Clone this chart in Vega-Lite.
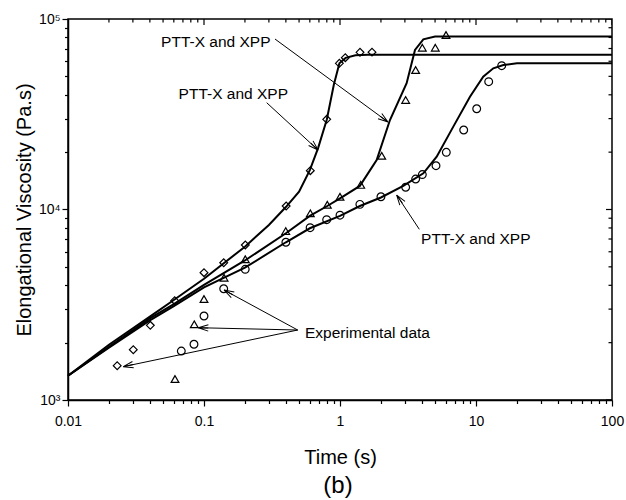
{
  "$schema": "https://vega.github.io/schema/vega-lite/v6.json",
  "width": 544,
  "height": 381,
  "autosize": {"type": "none"},
  "padding": {"left": 68, "top": 19, "right": 14, "bottom": 100},
  "background": "white",
  "config": {
    "font": "Liberation Sans",
    "view": {"stroke": "black", "strokeWidth": 1.5},
    "axis": {"grid": false, "domainColor": "black", "tickColor": "black", "labelColor": "black", "titleColor": "black", "labelOverlap": false, "labelFlush": false, "labelBound": false}
  },
  "title": {"text": "(b)", "orient": "bottom", "anchor": "middle", "fontSize": 24, "fontWeight": "normal", "color": "black", "offset": 7, "dx": -2},
  "datasets": {
    "lines": [
      {"curve": "D", "t": 0.01, "eta": 1340}, {"curve": "D", "t": 0.02, "eta": 1950}, {"curve": "D", "t": 0.03, "eta": 2380}, {"curve": "D", "t": 0.04, "eta": 2740}, {"curve": "D", "t": 0.06, "eta": 3350}, {"curve": "D", "t": 0.1, "eta": 4330}, {"curve": "D", "t": 0.2, "eta": 6380}, {"curve": "D", "t": 0.3, "eta": 8300}, {"curve": "D", "t": 0.4, "eta": 10300}, {"curve": "D", "t": 0.5, "eta": 12400}, {"curve": "D", "t": 0.6, "eta": 16100}, {"curve": "D", "t": 0.69, "eta": 21000}, {"curve": "D", "t": 0.8, "eta": 29700}, {"curve": "D", "t": 0.9, "eta": 45000}, {"curve": "D", "t": 0.99, "eta": 58500}, {"curve": "D", "t": 1.1, "eta": 62500}, {"curve": "D", "t": 1.3, "eta": 64500}, {"curve": "D", "t": 1.6, "eta": 65000}, {"curve": "D", "t": 100, "eta": 65000},
      {"curve": "T", "t": 0.01, "eta": 1340}, {"curve": "T", "t": 0.02, "eta": 1900}, {"curve": "T", "t": 0.04, "eta": 2680}, {"curve": "T", "t": 0.06, "eta": 3190}, {"curve": "T", "t": 0.1, "eta": 4020}, {"curve": "T", "t": 0.2, "eta": 5400}, {"curve": "T", "t": 0.4, "eta": 7500}, {"curve": "T", "t": 0.6, "eta": 9250}, {"curve": "T", "t": 0.8, "eta": 10400}, {"curve": "T", "t": 1.0, "eta": 11450}, {"curve": "T", "t": 1.4, "eta": 13300}, {"curve": "T", "t": 1.86, "eta": 18200}, {"curve": "T", "t": 2.33, "eta": 29500}, {"curve": "T", "t": 3.09, "eta": 46000}, {"curve": "T", "t": 3.56, "eta": 68800}, {"curve": "T", "t": 4.1, "eta": 78200}, {"curve": "T", "t": 5.0, "eta": 80900}, {"curve": "T", "t": 100, "eta": 81000},
      {"curve": "C", "t": 0.01, "eta": 1340}, {"curve": "C", "t": 0.02, "eta": 1880}, {"curve": "C", "t": 0.04, "eta": 2620}, {"curve": "C", "t": 0.06, "eta": 3110}, {"curve": "C", "t": 0.1, "eta": 3900}, {"curve": "C", "t": 0.2, "eta": 4950}, {"curve": "C", "t": 0.4, "eta": 6730}, {"curve": "C", "t": 0.6, "eta": 7970}, {"curve": "C", "t": 1.0, "eta": 9250}, {"curve": "C", "t": 1.4, "eta": 10430}, {"curve": "C", "t": 2.0, "eta": 11560}, {"curve": "C", "t": 2.92, "eta": 13290}, {"curve": "C", "t": 4.1, "eta": 15490}, {"curve": "C", "t": 5.14, "eta": 18930}, {"curve": "C", "t": 6.81, "eta": 27230}, {"curve": "C", "t": 9.03, "eta": 39070}, {"curve": "C", "t": 11.3, "eta": 49780}, {"curve": "C", "t": 13.4, "eta": 55100}, {"curve": "C", "t": 15.9, "eta": 57340}, {"curve": "C", "t": 20, "eta": 58500}, {"curve": "C", "t": 100, "eta": 58500}
    ],
    "points": [
      {"series": "diamond", "t": 0.023, "eta": 1514}, {"series": "diamond", "t": 0.0302, "eta": 1837}, {"series": "diamond", "t": 0.0403, "eta": 2466}, {"series": "diamond", "t": 0.0609, "eta": 3322}, {"series": "diamond", "t": 0.1, "eta": 4660}, {"series": "diamond", "t": 0.1396, "eta": 5256}, {"series": "diamond", "t": 0.2012, "eta": 6510}, {"series": "diamond", "t": 0.402, "eta": 10430}, {"series": "diamond", "t": 0.605, "eta": 15990}, {"series": "diamond", "t": 0.798, "eta": 29740}, {"series": "diamond", "t": 0.989, "eta": 58530}, {"series": "diamond", "t": 1.094, "eta": 62660}, {"series": "diamond", "t": 1.403, "eta": 66850}, {"series": "diamond", "t": 1.719, "eta": 67000},
      {"series": "triangle", "t": 0.0612, "eta": 1289}, {"series": "triangle", "t": 0.0848, "eta": 2496}, {"series": "triangle", "t": 0.1, "eta": 3390}, {"series": "triangle", "t": 0.1405, "eta": 4385}, {"series": "triangle", "t": 0.2012, "eta": 5480}, {"series": "triangle", "t": 0.399, "eta": 7700}, {"series": "triangle", "t": 0.605, "eta": 9548}, {"series": "triangle", "t": 0.807, "eta": 10590}, {"series": "triangle", "t": 1.0, "eta": 11670}, {"series": "triangle", "t": 1.42, "eta": 13460}, {"series": "triangle", "t": 2.027, "eta": 19140}, {"series": "triangle", "t": 3.04, "eta": 37580}, {"series": "triangle", "t": 3.6, "eta": 53980}, {"series": "triangle", "t": 4.03, "eta": 70680}, {"series": "triangle", "t": 5.02, "eta": 70680}, {"series": "triangle", "t": 6.02, "eta": 82410},
      {"series": "circle", "t": 0.0681, "eta": 1807}, {"series": "circle", "t": 0.0844, "eta": 1961}, {"series": "circle", "t": 0.1, "eta": 2761}, {"series": "circle", "t": 0.1396, "eta": 3837}, {"series": "circle", "t": 0.201, "eta": 4853}, {"series": "circle", "t": 0.4, "eta": 6733}, {"series": "circle", "t": 0.603, "eta": 8027}, {"series": "circle", "t": 0.798, "eta": 8843}, {"series": "circle", "t": 1.0, "eta": 9337}, {"series": "circle", "t": 1.4, "eta": 10640}, {"series": "circle", "t": 2.0, "eta": 11670}, {"series": "circle", "t": 3.04, "eta": 13080}, {"series": "circle", "t": 3.6, "eta": 14450}, {"series": "circle", "t": 4.03, "eta": 15250}, {"series": "circle", "t": 5.08, "eta": 16980}, {"series": "circle", "t": 6.05, "eta": 19960}, {"series": "circle", "t": 8.12, "eta": 26140}, {"series": "circle", "t": 10.12, "eta": 33800}, {"series": "circle", "t": 12.4, "eta": 46880}, {"series": "circle", "t": 15.45, "eta": 56880}
    ],
    "arrows": [
      {"id": "A", "t1": 0.3327, "e1": 78500, "t2": 2.254, "e2": 28800},
      {"id": "B", "t1": 0.289, "e1": 36360, "t2": 0.69, "e2": 20510},
      {"id": "C", "t1": 3.83, "e1": 7870, "t2": 2.61, "e2": 11910},
      {"id": "D", "t1": 0.4886, "e1": 2330, "t2": 0.1403, "e2": 3779},
      {"id": "E", "t1": 0.4886, "e1": 2330, "t2": 0.0908, "e2": 2396},
      {"id": "F", "t1": 0.4886, "e1": 2330, "t2": 0.0255, "e2": 1496}
    ],
    "labels": [
      {"text": "PTT-X and XPP", "t": 0.1221, "eta": 76000},
      {"text": "PTT-X and XPP", "t": 0.1642, "eta": 40400},
      {"text": "PTT-X and XPP", "t": 9.97, "eta": 7000},
      {"text": "Experimental data", "t": 1.593, "eta": 2239}
    ],
    "xticks": [
      {"v": 0.01, "kind": "major"}, {"v": 0.02, "kind": "minor"}, {"v": 0.03, "kind": "minor"}, {"v": 0.04, "kind": "minor"}, {"v": 0.05, "kind": "minor"}, {"v": 0.06, "kind": "minor"}, {"v": 0.07, "kind": "minor"}, {"v": 0.08, "kind": "minor"}, {"v": 0.09, "kind": "minor"},
      {"v": 0.1, "kind": "major"}, {"v": 0.2, "kind": "minor"}, {"v": 0.3, "kind": "minor"}, {"v": 0.4, "kind": "minor"}, {"v": 0.5, "kind": "minor"}, {"v": 0.6, "kind": "minor"}, {"v": 0.7, "kind": "minor"}, {"v": 0.8, "kind": "minor"}, {"v": 0.9, "kind": "minor"},
      {"v": 1, "kind": "major"}, {"v": 2, "kind": "minor"}, {"v": 3, "kind": "minor"}, {"v": 4, "kind": "minor"}, {"v": 5, "kind": "minor"}, {"v": 6, "kind": "minor"}, {"v": 7, "kind": "minor"}, {"v": 8, "kind": "minor"}, {"v": 9, "kind": "minor"},
      {"v": 10, "kind": "major"}, {"v": 20, "kind": "minor"}, {"v": 30, "kind": "minor"}, {"v": 40, "kind": "minor"}, {"v": 50, "kind": "minor"}, {"v": 60, "kind": "minor"}, {"v": 70, "kind": "minor"}, {"v": 80, "kind": "minor"}, {"v": 90, "kind": "minor"},
      {"v": 100, "kind": "major"}
    ],
    "yticks": [
      {"v": 1000, "kind": "major"}, {"v": 2000, "kind": "minor"}, {"v": 3000, "kind": "minor"}, {"v": 4000, "kind": "minor"}, {"v": 5000, "kind": "minor"}, {"v": 6000, "kind": "minor"}, {"v": 7000, "kind": "minor"}, {"v": 8000, "kind": "minor"}, {"v": 9000, "kind": "minor"},
      {"v": 10000, "kind": "major"}, {"v": 20000, "kind": "minor"}, {"v": 30000, "kind": "minor"}, {"v": 40000, "kind": "minor"}, {"v": 50000, "kind": "minor"}, {"v": 60000, "kind": "minor"}, {"v": 70000, "kind": "minor"}, {"v": 80000, "kind": "minor"}, {"v": 90000, "kind": "minor"},
      {"v": 100000, "kind": "major"}
    ]
  },
  "layer": [
    {
      "data": {"name": "lines"},
      "mark": {"type": "line", "color": "black", "strokeWidth": 2},
      "encoding": {
        "x": {"field": "t", "type": "quantitative", "scale": {"type": "log", "domain": [0.01, 100], "nice": false},
          "axis": {"orient": "bottom", "values": [0.01,0.02,0.03,0.04,0.05,0.06,0.07,0.08,0.09,0.1,0.2,0.3,0.4,0.5,0.6,0.7,0.8,0.9,1,2,3,4,5,6,7,8,9,10,20,30,40,50,60,70,80,90,100],
            "format": ".2~f",
            "labelExpr": "indexof([0.01,0.1,1,10,100], datum.value) >= 0 ? datum.label : ''",
            "tickSize": {"condition": {"test": "indexof([0.01,0.1,1,10,100], datum.value) >= 0", "value": 6}, "value": 3.5},
            "tickWidth": 1.2, "domainWidth": 1.5,
            "labelFontSize": 14, "labelPadding": 8,
            "title": "Time (s)", "titleFontSize": 20, "titleFontWeight": "normal", "titlePadding": 19}},
        "y": {"field": "eta", "type": "quantitative", "scale": {"type": "log", "domain": [1000, 100000], "nice": false},
          "axis": {"orient": "left", "values": [1000,2000,3000,4000,5000,6000,7000,8000,9000,10000,20000,30000,40000,50000,60000,70000,80000,90000,100000],
            "labelExpr": "datum.value == 1000 ? '10³' : datum.value == 10000 ? '10⁴' : datum.value == 100000 ? '10⁵' : ''",
            "tickSize": {"condition": {"test": "indexof([1000,10000,100000], datum.value) >= 0", "value": 6}, "value": 3.5},
            "tickWidth": 1.2, "domainWidth": 1.5,
            "labelFontSize": 14, "labelPadding": 2,
            "title": "Elongational Viscosity (Pa.s)", "titleFontSize": 20, "titleFontWeight": "normal", "titlePadding": 4}},
        "detail": {"field": "curve"}
      }
    },
    {
      "data": {"name": "xticks"},
      "transform": [{"filter": "datum.kind == 'major'"}],
      "mark": {"type": "tick", "orient": "vertical", "color": "black", "size": 12, "thickness": 1.2, "clip": true, "opacity": 1},
      "encoding": {
        "x": {"field": "v", "type": "quantitative", "scale": {"type": "log", "domain": [0.01, 100], "nice": false}},
        "y": {"datum": 100000, "type": "quantitative", "scale": {"type": "log", "domain": [1000, 100000], "nice": false}}
      }
    },
    {
      "data": {"name": "xticks"},
      "transform": [{"filter": "datum.kind == 'minor'"}],
      "mark": {"type": "tick", "orient": "vertical", "color": "black", "size": 7, "thickness": 1.2, "clip": true, "opacity": 1},
      "encoding": {
        "x": {"field": "v", "type": "quantitative", "scale": {"type": "log", "domain": [0.01, 100], "nice": false}},
        "y": {"datum": 100000, "type": "quantitative", "scale": {"type": "log", "domain": [1000, 100000], "nice": false}}
      }
    },
    {
      "data": {"name": "yticks"},
      "transform": [{"filter": "datum.kind == 'major'"}],
      "mark": {"type": "tick", "orient": "horizontal", "color": "black", "size": 12, "thickness": 1.2, "clip": true, "opacity": 1},
      "encoding": {
        "y": {"field": "v", "type": "quantitative", "scale": {"type": "log", "domain": [1000, 100000], "nice": false}},
        "x": {"datum": 100, "type": "quantitative", "scale": {"type": "log", "domain": [0.01, 100], "nice": false}}
      }
    },
    {
      "data": {"name": "yticks"},
      "transform": [{"filter": "datum.kind == 'minor'"}],
      "mark": {"type": "tick", "orient": "horizontal", "color": "black", "size": 7, "thickness": 1.2, "clip": true, "opacity": 1},
      "encoding": {
        "y": {"field": "v", "type": "quantitative", "scale": {"type": "log", "domain": [1000, 100000], "nice": false}},
        "x": {"datum": 100, "type": "quantitative", "scale": {"type": "log", "domain": [0.01, 100], "nice": false}}
      }
    },
    {
      "data": {"name": "points"},
      "mark": {"type": "point", "filled": false, "color": "black", "strokeWidth": 1.2, "size": 60, "opacity": 1},
      "encoding": {
        "x": {"field": "t", "type": "quantitative", "scale": {"type": "log", "domain": [0.01, 100], "nice": false}},
        "y": {"field": "eta", "type": "quantitative", "scale": {"type": "log", "domain": [1000, 100000], "nice": false}},
        "shape": {"field": "series", "type": "nominal", "scale": {"domain": ["diamond", "triangle", "circle"], "range": ["diamond", "triangle-up", "circle"]}, "legend": null}
      }
    },
    {
      "data": {"name": "arrows"},
      "mark": {"type": "rule", "color": "black", "strokeWidth": 1},
      "encoding": {
        "x": {"field": "t1", "type": "quantitative", "scale": {"type": "log", "domain": [0.01, 100], "nice": false}},
        "y": {"field": "e1", "type": "quantitative", "scale": {"type": "log", "domain": [1000, 100000], "nice": false}},
        "x2": {"field": "t2"},
        "y2": {"field": "e2"}
      }
    },
    {
      "data": {"name": "arrows"},
      "transform": [{"filter": "datum.id == 'A'"}],
      "mark": {"type": "point", "shape": "M0,0L-1,-0.32M0,0L-1,0.32M0,0L-1,0", "filled": false, "color": "black", "strokeWidth": 1, "size": 400, "angle": 36, "opacity": 1},
      "encoding": {
        "x": {"field": "t2", "type": "quantitative", "scale": {"type": "log", "domain": [0.01, 100], "nice": false}},
        "y": {"field": "e2", "type": "quantitative", "scale": {"type": "log", "domain": [1000, 100000], "nice": false}}
      }
    },
    {
      "data": {"name": "arrows"},
      "transform": [{"filter": "datum.id == 'B'"}],
      "mark": {"type": "point", "shape": "M0,0L-1,-0.32M0,0L-1,0.32M0,0L-1,0", "filled": false, "color": "black", "strokeWidth": 1, "size": 400, "angle": 43.4, "opacity": 1},
      "encoding": {
        "x": {"field": "t2", "type": "quantitative", "scale": {"type": "log", "domain": [0.01, 100], "nice": false}},
        "y": {"field": "e2", "type": "quantitative", "scale": {"type": "log", "domain": [1000, 100000], "nice": false}}
      }
    },
    {
      "data": {"name": "arrows"},
      "transform": [{"filter": "datum.id == 'C'"}],
      "mark": {"type": "point", "shape": "M0,0L-1,-0.32M0,0L-1,0.32M0,0L-1,0", "filled": false, "color": "black", "strokeWidth": 1, "size": 400, "angle": 234.8, "opacity": 1},
      "encoding": {
        "x": {"field": "t2", "type": "quantitative", "scale": {"type": "log", "domain": [0.01, 100], "nice": false}},
        "y": {"field": "e2", "type": "quantitative", "scale": {"type": "log", "domain": [1000, 100000], "nice": false}}
      }
    },
    {
      "data": {"name": "arrows"},
      "transform": [{"filter": "datum.id == 'D'"}],
      "mark": {"type": "point", "shape": "M0,0L-1,-0.32M0,0L-1,0.32M0,0L-1,0", "filled": false, "color": "black", "strokeWidth": 1, "size": 400, "angle": 208.5, "opacity": 1},
      "encoding": {
        "x": {"field": "t2", "type": "quantitative", "scale": {"type": "log", "domain": [0.01, 100], "nice": false}},
        "y": {"field": "e2", "type": "quantitative", "scale": {"type": "log", "domain": [1000, 100000], "nice": false}}
      }
    },
    {
      "data": {"name": "arrows"},
      "transform": [{"filter": "datum.id == 'E'"}],
      "mark": {"type": "point", "shape": "M0,0L-1,-0.32M0,0L-1,0.32M0,0L-1,0", "filled": false, "color": "black", "strokeWidth": 1, "size": 400, "angle": 181.3, "opacity": 1},
      "encoding": {
        "x": {"field": "t2", "type": "quantitative", "scale": {"type": "log", "domain": [0.01, 100], "nice": false}},
        "y": {"field": "e2", "type": "quantitative", "scale": {"type": "log", "domain": [1000, 100000], "nice": false}}
      }
    },
    {
      "data": {"name": "arrows"},
      "transform": [{"filter": "datum.id == 'F'"}],
      "mark": {"type": "point", "shape": "M0,0L-1,-0.32M0,0L-1,0.32M0,0L-1,0", "filled": false, "color": "black", "strokeWidth": 1, "size": 400, "angle": 168.1, "opacity": 1},
      "encoding": {
        "x": {"field": "t2", "type": "quantitative", "scale": {"type": "log", "domain": [0.01, 100], "nice": false}},
        "y": {"field": "e2", "type": "quantitative", "scale": {"type": "log", "domain": [1000, 100000], "nice": false}}
      }
    },
    {
      "data": {"name": "labels"},
      "mark": {"type": "text", "color": "black", "fontSize": 15.5, "align": "center", "baseline": "middle"},
      "encoding": {
        "x": {"field": "t", "type": "quantitative", "scale": {"type": "log", "domain": [0.01, 100], "nice": false}},
        "y": {"field": "eta", "type": "quantitative", "scale": {"type": "log", "domain": [1000, 100000], "nice": false}},
        "text": {"field": "text"}
      }
    }
  ]
}
